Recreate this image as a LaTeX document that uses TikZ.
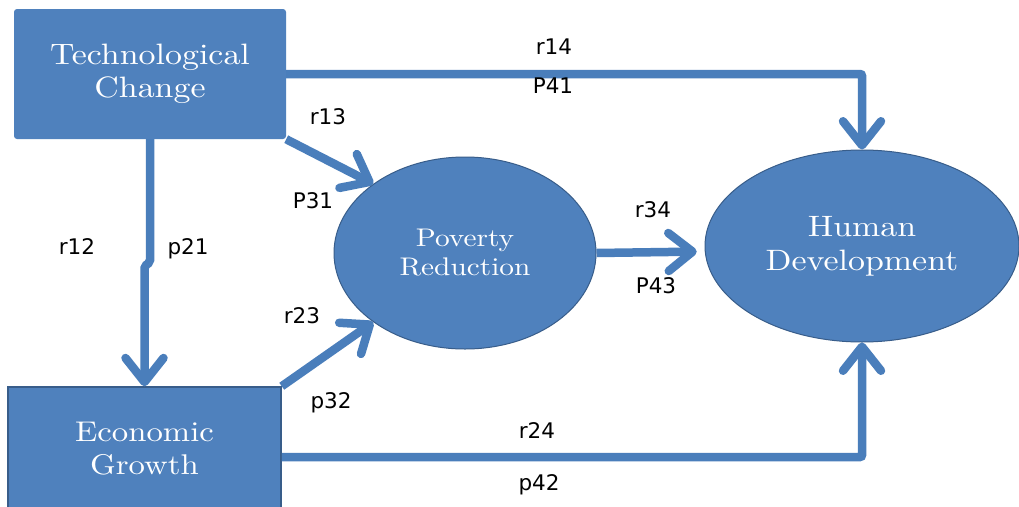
\documentclass[tikz,border=0pt]{standalone}
\usepackage{fontspec}
\newfontfamily\boxfont{lmroman10-regular}[Extension=.otf,FakeStretch=1.15]
\newfontfamily\pathfont{DejaVu Sans}
\usetikzlibrary{arrows.meta,shapes.geometric,positioning}
\definecolor{boxblue}{HTML}{4F81BD}
\definecolor{boxline}{HTML}{385D8A}
\definecolor{linkblue}{HTML}{4A7EBB}

\begin{document}
\begin{tikzpicture}[x=1pt,y=-1pt,
  varbox/.style={rectangle,fill=boxblue,text=white,align=center,inner sep=0pt,
    font=\boxfont\fontsize{28.5}{33}\selectfont},
  varoval/.style={ellipse,fill=boxblue,draw=boxline,line width=1pt,text=white,
    align=center,inner sep=0pt},
  link/.style={draw=linkblue,line width=8.5pt,rounded corners=2pt,
    -{Straight Barb[length=24pt,width=38pt,round]}},
  coef/.style={font=\pathfont\fontsize{21.5}{26}\selectfont,anchor=base}]
\fill[white] (0,0) rectangle (1019,506);
\useasboundingbox (0,0) rectangle (1019,506);

% variables
\node[varbox,rounded corners=3pt,minimum width=272pt,minimum height=130pt,
  font=\boxfont\fontsize{29.5}{33}\selectfont] (tc) at (150,74) {Technological\\Change};
\node[varbox,draw=boxline,line width=1.5pt,minimum width=273pt,minimum height=124pt] (eg) at (144.5,449) {Economic\\Growth};
\node[varoval,minimum width=262pt,minimum height=192pt,font=\boxfont\fontsize{25.5}{29}\selectfont] (pr) at (465,253) {Poverty\\Reduction};
\node[varoval,minimum width=314pt,minimum height=192pt,font=\boxfont\fontsize{29.5}{34}\selectfont] (hd) at (862,246) {Human\\Development};

% paths
\draw[link] (tc.east) -| (hd.north);
\draw[link] ([yshift=-8pt]eg.east) -| (hd.south);
\draw[link] (tc.south) -- ++(0,123) -- ++(-5.5,4) -- (eg.north);
\draw[link] (tc.south east) -- (pr.143);
\draw[link] (eg.north east) -- (pr.217);
\draw[link,shorten >=8pt] (pr.east) -- (hd.182);

% coefficients
\node[coef] (r14) at (554,54) {r14};
\node[coef] (p41) at (553,93) {P41};
\node[coef] (r13) at (328,124) {r13};
\node[coef] (p31) at (313,208) {P31};
\node[coef] (r12) at (77,254) {r12};
\node[coef] (p21) at (188,254) {p21};
\node[coef] (r23) at (302,323) {r23};
\node[coef] (p32) at (331,408) {p32};
\node[coef] (r34) at (653,217) {r34};
\node[coef] (p43) at (656,293) {P43};
\node[coef] (r24) at (537,438) {r24};
\node[coef] (p42) at (539,490) {p42};
\end{tikzpicture}
\end{document}
